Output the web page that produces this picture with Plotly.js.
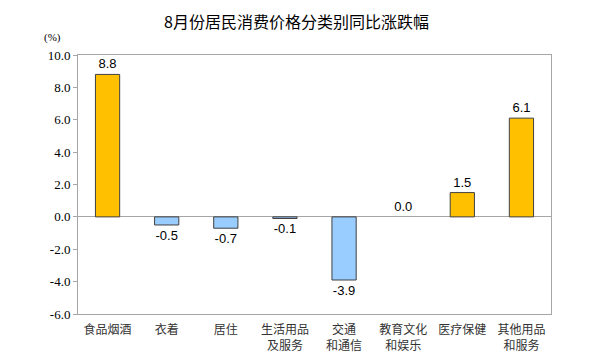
<!DOCTYPE html>
<html><head><meta charset="utf-8">
<script src="https://cdn.plot.ly/plotly-3.0.1.min.js"></script>
<style>html,body{margin:0;padding:0;background:#fff}#c{width:593px;height:360px}</style>
</head><body><div id="c"></div>
<script>
var categories = ["食品烟酒", "衣着", "居住", "生活用品<br>及服务", "交通<br>和通信", "教育文化<br>和娱乐", "医疗保健", "其他用品<br>和服务"];
var values = [8.8, -0.5, -0.7, -0.1, -3.9, 0.0, 1.5, 6.1];
var yTicks = [10, 8, 6, 4, 2, 0, -2, -4, -6];
var yTickLabels = ["10.0", "8.0", "6.0", "4.0", "2.0", "0.0", "-2.0", "-4.0", "-6.0"];

var colors = values.map(function(v){ return v >= 0 ? "#FFC000" : "#99CCFF"; });
var lineWidths = values.map(function(v){ return v === 0 ? 0 : 1; });

var trace = {
  type: "bar",
  x: categories,
  y: values,
  width: 0.41,
  marker: {color: colors, line: {color: "#404040", width: lineWidths}},
  text: values.map(function(v){ return v.toFixed(1); }),
  textposition: "outside",
  cliponaxis: false,
  textfont: {family: "Liberation Sans, Arial, sans-serif", size: 13, color: "#000"},
  hoverinfo: "none"
};

var layout = {
  width: 593, height: 360,
  margin: {l: 78, r: 42, t: 55, b: 46},
  paper_bgcolor: "#fff", plot_bgcolor: "#fff",
  showlegend: false,
  title: {text: "8月份居民消费价格分类别同比涨跌幅", x: 0.5, xanchor: "center", y: 0.937, yanchor: "middle",
          font: {family: "Noto Sans CJK SC, sans-serif", size: 16, color: "#000"}},
  xaxis: {
    showline: true, linecolor: "#a6a6a6", linewidth: 1, mirror: true,
    ticks: "", showgrid: false, ticklabelstandoff: 5,
    tickfont: {family: "Noto Sans CJK SC, sans-serif", size: 12, color: "#333"}
  },
  yaxis: {
    range: [-6, 10], tickvals: yTicks, ticktext: yTickLabels,
    showline: true, linecolor: "#a6a6a6", linewidth: 1, mirror: true,
    ticks: "outside", ticklen: 4, tickcolor: "#a6a6a6",
    showgrid: false, zeroline: true, zerolinecolor: "#a6a6a6", zerolinewidth: 1,
    tickfont: {family: "Liberation Serif, Times New Roman, serif", size: 13, color: "#000"}
  },
  annotations: [{
    text: "(%)", xref: "paper", yref: "paper", x: -0.053, y: 1.068, xanchor: "center", yanchor: "middle",
    showarrow: false, font: {family: "Liberation Serif, Times New Roman, serif", size: 11, color: "#000"}
  }]
};

Plotly.newPlot("c", [trace], layout, {staticPlot: true, displayModeBar: false});
</script></body></html>
